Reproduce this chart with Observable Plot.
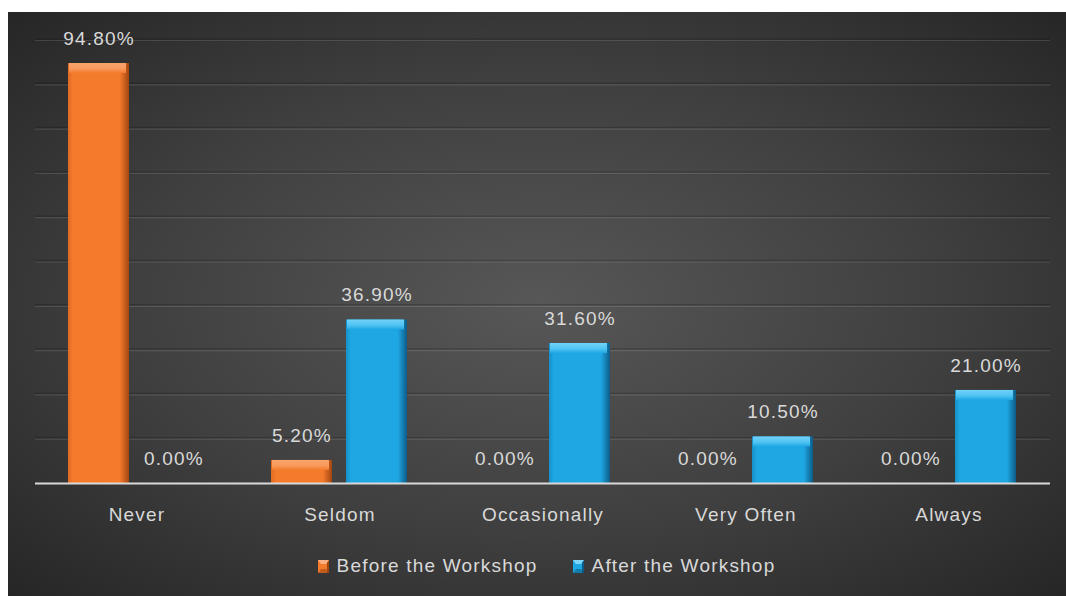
<!DOCTYPE html>
<html>
<head>
<meta charset="utf-8">
<script src="https://cdn.jsdelivr.net/npm/d3@7"></script>
<script src="https://cdn.jsdelivr.net/npm/@observablehq/plot@0.6"></script>
<style>
  html, body { margin: 0; padding: 0; background: #ffffff; }
  #chart {
    position: absolute; left: 8px; top: 12px; width: 1058px; height: 584px;
    background: radial-gradient(ellipse farthest-corner at 50% 50%, #575757 0%, #3f3f3f 55%, #262626 100%);
    font-family: "Liberation Sans", Arial, sans-serif;
  }
  #chart svg { display: block; background: transparent; }
  #legend {
    display: flex; justify-content: center; align-items: center; gap: 35px;
    padding-left: 19px; padding-top: 24px;
    color: #d9d9d9; font-size: 19px; letter-spacing: 1.2px; line-height: 20px;
  }
  #legend .item { display: flex; align-items: center; gap: 8px; }
</style>
</head>
<body>
<div id="chart"></div>
<script>
const categories = ["Never", "Seldom", "Occasionally", "Very Often", "Always"];
const seriesNames = ["Before the Workshop", "After the Workshop"];
const beforeValues = [94.8, 5.2, 0.0, 0.0, 0.0];
const afterValues = [0.0, 36.9, 31.6, 10.5, 21.0];
const yTicks = [10, 20, 30, 40, 50, 60, 70, 80, 90, 100];

const rows = [];
categories.forEach((c, i) => {
  rows.push({category: c, series: seriesNames[0], value: beforeValues[i]});
  rows.push({category: c, series: seriesNames[1], value: afterValues[i]});
});
const fillMain = {[seriesNames[0]]: "url(#gOrange)", [seriesNames[1]]: "url(#gBlue)"};
const fillTop = {[seriesNames[0]]: "url(#gOrangeTop)", [seriesNames[1]]: "url(#gBlueTop)"};

const svg = Plot.plot({
  width: 1058,
  height: 520,
  marginLeft: 27,
  marginRight: 16,
  marginTop: 28,
  marginBottom: 49,
  style: {background: "transparent", fontFamily: "Liberation Sans, Arial, sans-serif"},
  fx: {domain: categories, padding: 0, label: null, axis: null},
  x: {domain: seriesNames, paddingInner: 0.184, paddingOuter: 0.428, axis: null},
  y: {domain: [0, 100], axis: null},
  marks: [
    Plot.ruleY(yTicks, {y: d => d, stroke: "#000000", strokeOpacity: 0.18, strokeWidth: 1.5, dy: -1.5}),
    Plot.ruleY(yTicks, {y: d => d, stroke: "#ffffff", strokeOpacity: 0.12, strokeWidth: 1.2}),
    Plot.barY(rows, {fx: "category", x: "series", y: "value", fill: d => fillMain[d.series]}),
    Plot.barY(rows.filter(d => d.value > 0), {fx: "category", x: "series", y1: "value", y2: "value", insetBottom: -10, insetLeft: 1, insetRight: 3, fill: d => fillTop[d.series]}),
    Plot.ruleY([0], {stroke: "#d9d9d9", strokeWidth: 2}),
    Plot.text(rows, {fx: "category", x: "series", y: "value", text: d => d.value.toFixed(2) + "%", dy: -25, fill: "#d9d9d9", fontSize: 19, lineAnchor: "middle", textAnchor: "middle"}),
    Plot.text(categories, {fx: d => d, frameAnchor: "bottom", text: d => d, dy: 31, fill: "#d9d9d9", fontSize: 19, lineAnchor: "middle"})
  ]
});

const defs = document.createElementNS("http://www.w3.org/2000/svg", "defs");
defs.innerHTML = `
  <linearGradient id="gOrange" x1="0" x2="1" y1="0" y2="0">
    <stop offset="0" stop-color="#e06a22"/>
    <stop offset="0.08" stop-color="#f47a2c"/>
    <stop offset="0.85" stop-color="#f47a2c"/>
    <stop offset="1" stop-color="#a24610"/>
  </linearGradient>
  <linearGradient id="gOrangeTop" x1="0" x2="0" y1="0" y2="1">
    <stop offset="0" stop-color="#f9a46e"/>
    <stop offset="0.55" stop-color="#f89a5c"/>
    <stop offset="1" stop-color="#f47a2c"/>
  </linearGradient>
  <linearGradient id="gBlue" x1="0" x2="1" y1="0" y2="0">
    <stop offset="0" stop-color="#1690c8"/>
    <stop offset="0.08" stop-color="#1fa7e4"/>
    <stop offset="0.85" stop-color="#1fa7e4"/>
    <stop offset="1" stop-color="#0c5c86"/>
  </linearGradient>
  <linearGradient id="gBlueTop" x1="0" x2="0" y1="0" y2="1">
    <stop offset="0" stop-color="#70d2f8"/>
    <stop offset="0.55" stop-color="#52c4f2"/>
    <stop offset="1" stop-color="#1fa7e4"/>
  </linearGradient>`;
svg.insertBefore(defs, svg.firstChild);
svg.querySelectorAll("text").forEach(t => t.setAttribute("letter-spacing", "1.2"));

const chart = document.getElementById("chart");
chart.appendChild(svg);

const legend = document.createElement("div");
legend.id = "legend";
const icons = [["#f47a2c", "#fab083", "#a24610"], ["#1fa7e4", "#7fd6f8", "#0c5c86"]];
seriesNames.forEach((name, i) => {
  const item = document.createElement("div");
  item.className = "item";
  const [main, light, dark] = icons[i];
  item.innerHTML = `<svg width="11" height="13" viewBox="0 0 11 13"><rect x="0" y="0" width="11" height="13" fill="${main}"/><rect x="9" y="0" width="2" height="13" fill="${dark}"/><polygon points="0,0 11,0 8,4 3,4" fill="${light}"/><polygon points="0,13 11,13 8,9 3,9" fill="${dark}" opacity="0.6"/></svg><span>${name}</span>`;
  legend.appendChild(item);
});
chart.appendChild(legend);
</script>
</body>
</html>
